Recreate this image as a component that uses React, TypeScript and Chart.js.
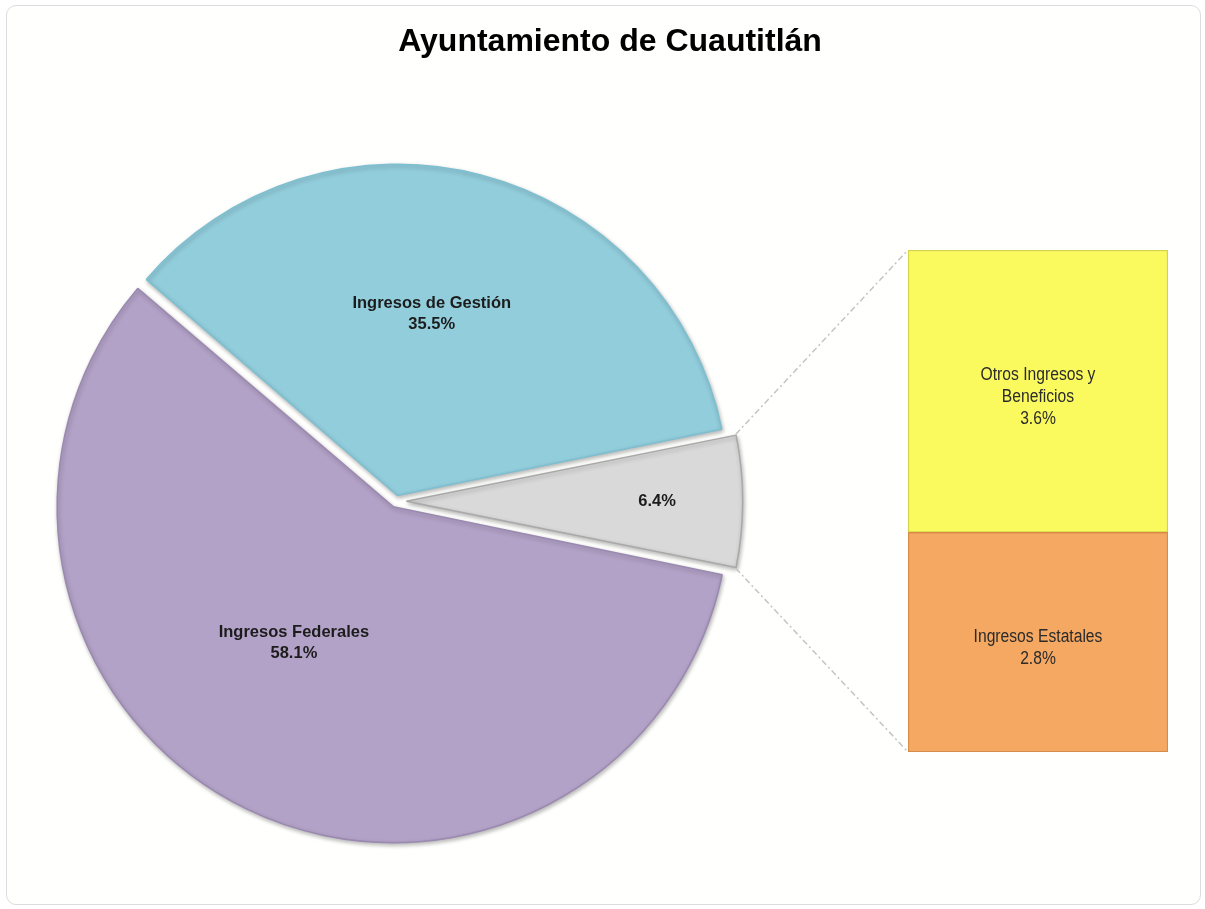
import React, { useEffect, useRef } from 'react';
import { Chart, registerables } from 'chart.js';

Chart.register(...registerables);

// ---- data ----
const TITLE = 'Ayuntamiento de Cuautitlán';
const pieCategories = ['Otros', 'Ingresos Federales', 'Ingresos de Gestión'];
const pieValues = [6.4, 58.1, 35.5];
const pieLabelLines = [[], ['Ingresos Federales'], ['Ingresos de Gestión']];
const barCategories = ['Ingresos Estatales', 'Otros Ingresos y Beneficios'];
const barValues = [2.8, 3.6];
const barLabelLines = [['Ingresos Estatales'], ['Otros Ingresos y', 'Beneficios']];

// ---- style ----
const PIE_COLORS = ['#D9D9D9', '#B3A2C7', '#92CDDC'];
const PIE_BORDERS = ['#A9A9A9', '#9A89B0', '#7DBFD0'];
const PIE_OFFSETS = [42, 24, 24];
const LABEL_ANGLE_FRAC = [0.5, 0.548, 0.47];
const LABEL_RADIUS_FRAC = [0.76, 0.51, 0.56];
const BAR_COLORS = ['#F4A862', '#FAFA5E'];
const BAR_BORDERS = ['#D88C4A', '#D4D44A'];
const BAR_LABEL_SHIFT = 6;

const W = 1205;
const H = 909;
const PIE_CX = 395.8;
const PIE_CY = 501.3;
const PIE_R = 330;
const BAR_BOX = { left: 908, top: 250, width: 260, height: 502 };
const BAR_PAD = 3;

const pct = (v: number) => v.toFixed(1) + '%';

export default function App() {
  const pieRef = useRef<HTMLCanvasElement>(null);
  const barRef = useRef<HTMLCanvasElement>(null);

  useEffect(() => {
    const barTotal = barValues.reduce((a, b) => a + b, 0);

    const barLabelPlugin = {
      id: 'barLabels',
      afterDatasetsDraw(chart: any) {
        const ctx = chart.ctx;
        chart.data.datasets.forEach((ds: any, i: number) => {
          const el = chart.getDatasetMeta(i).data[0];
          const cy = (el.y + el.base) / 2 + BAR_LABEL_SHIFT;
          const lines = [...barLabelLines[i], pct(barValues[i])];
          const lh = 22;
          ctx.save();
          ctx.translate(el.x, cy);
          ctx.scale(0.87, 1);
          ctx.font = '18px "Liberation Sans", Arial, sans-serif';
          ctx.fillStyle = '#2b2b2b';
          ctx.textAlign = 'center';
          ctx.textBaseline = 'middle';
          lines.forEach((ln, k) => ctx.fillText(ln, 0, (k - (lines.length - 1) / 2) * lh));
          ctx.restore();
        });
      },
    };

    const barChart = new Chart(barRef.current!, {
      type: 'bar',
      data: {
        labels: ['Otros'],
        datasets: barCategories.map((name, i) => ({
          label: name,
          data: [barValues[i]],
          backgroundColor: BAR_COLORS[i],
          borderColor: BAR_BORDERS[i],
          borderWidth: 1.5,
          borderSkipped: false,
          barPercentage: 1,
          categoryPercentage: 1,
        })),
      },
      options: {
        responsive: false,
        animation: false,
        events: [],
        layout: { padding: BAR_PAD },
        plugins: { legend: { display: false }, tooltip: { enabled: false } },
        scales: {
          x: { stacked: true, display: false },
          y: { stacked: true, display: false, min: 0, max: barTotal },
        },
      },
      plugins: [barLabelPlugin],
    } as any);

    const shadowPlugin = {
      id: 'pieShadow',
      beforeDatasetDraw(chart: any) {
        const ctx = chart.ctx;
        ctx.save();
        ctx.shadowColor = 'rgba(0,0,0,0.28)';
        ctx.shadowBlur = 4;
        ctx.shadowOffsetX = 1;
        ctx.shadowOffsetY = 2;
      },
      afterDatasetDraw(chart: any) {
        chart.ctx.restore();
      },
    };

    const connectorPlugin = {
      id: 'connectors',
      afterDatasetsDraw(chart: any) {
        const ctx = chart.ctx;
        const el = chart.getDatasetMeta(0).data[0];
        const { x, y, startAngle, endAngle, outerRadius } = el;
        const mid = (startAngle + endAngle) / 2;
        const t = PIE_OFFSETS[0] / 4;
        const cx = x + Math.cos(mid) * t;
        const cy = y + Math.sin(mid) * t;
        const rOff = t * (1 - Math.sin(Math.min(Math.PI, endAngle - startAngle)));
        const R = outerRadius + rOff;
        const p1 = { x: cx + R * Math.cos(startAngle), y: cy + R * Math.sin(startAngle) };
        const p2 = { x: cx + R * Math.cos(endAngle), y: cy + R * Math.sin(endAngle) };
        const offX = BAR_BOX.left - BAR_PAD;
        const offY = BAR_BOX.top - BAR_PAD;
        const topEl = barChart.getDatasetMeta(barValues.length - 1).data[0] as any;
        const botEl = barChart.getDatasetMeta(0).data[0] as any;
        const bx = offX + topEl.x - topEl.width / 2;
        ctx.save();
        ctx.strokeStyle = '#c4c4c4';
        ctx.lineWidth = 1.5;
        ctx.setLineDash([6, 3, 2, 3]);
        ctx.beginPath();
        ctx.moveTo(p1.x, p1.y);
        ctx.lineTo(bx, offY + topEl.y);
        ctx.moveTo(p2.x, p2.y);
        ctx.lineTo(bx, offY + botEl.base);
        ctx.stroke();
        ctx.restore();
      },
    };

    const pieLabelPlugin = {
      id: 'pieLabels',
      afterDatasetsDraw(chart: any) {
        const ctx = chart.ctx;
        const meta = chart.getDatasetMeta(0);
        ctx.save();
        ctx.font = 'bold 16.5px "Liberation Sans", Arial, sans-serif';
        ctx.fillStyle = '#1c1c1c';
        ctx.textAlign = 'center';
        ctx.textBaseline = 'middle';
        meta.data.forEach((el: any, i: number) => {
          const { x, y, startAngle, endAngle, outerRadius } = el;
          const mid = (startAngle + endAngle) / 2;
          const t = PIE_OFFSETS[i] / 4;
          const cx = x + Math.cos(mid) * t;
          const cy = y + Math.sin(mid) * t;
          const a = startAngle + (endAngle - startAngle) * LABEL_ANGLE_FRAC[i];
          const r = outerRadius * LABEL_RADIUS_FRAC[i];
          const lx = cx + Math.cos(a) * r;
          const ly = cy + Math.sin(a) * r;
          const lines = [...pieLabelLines[i], pct(pieValues[i])];
          const lh = 21;
          lines.forEach((ln, k) => ctx.fillText(ln, lx, ly + (k - (lines.length - 1) / 2) * lh));
        });
        ctx.restore();
      },
    };

    const pieTotal = pieValues.reduce((a, b) => a + b, 0);
    const rotation = 90 - (pieValues[0] / pieTotal) * 180;

    const pieChart = new Chart(pieRef.current!, {
      type: 'pie',
      data: {
        labels: pieCategories,
        datasets: [
          {
            data: pieValues,
            backgroundColor: PIE_COLORS,
            borderColor: PIE_BORDERS,
            borderWidth: 1.5,
            offset: PIE_OFFSETS,
            hoverOffset: 0,
          },
        ],
      },
      options: {
        responsive: false,
        animation: false,
        events: [],
        rotation,
        radius: PIE_R,
        layout: {
          padding: { left: 0, right: W - 2 * PIE_CX, top: 2 * PIE_CY - H, bottom: 0 },
        },
        plugins: { legend: { display: false }, tooltip: { enabled: false } },
      },
      plugins: [shadowPlugin, connectorPlugin, pieLabelPlugin],
    } as any);

    return () => {
      pieChart.destroy();
      barChart.destroy();
    };
  }, []);

  return (
    <div
      style={{
        position: 'fixed',
        left: 0,
        top: 0,
        width: W,
        height: H,
        overflow: 'hidden',
        background: '#ffffff',
      }}
    >
      <div
        style={{
          position: 'absolute',
          left: 6,
          top: 5,
          width: 1195,
          height: 900,
          border: '1px solid #dcdcdc',
          borderRadius: 10,
          background: '#fffffd',
          boxSizing: 'border-box',
        }}
      />
      <canvas ref={pieRef} width={W} height={H} style={{ position: 'absolute', left: 0, top: 0 }} />
      <canvas
        ref={barRef}
        width={BAR_BOX.width + 2 * BAR_PAD}
        height={BAR_BOX.height + 2 * BAR_PAD}
        style={{ position: 'absolute', left: BAR_BOX.left - BAR_PAD, top: BAR_BOX.top - BAR_PAD }}
      />
      <div
        style={{
          position: 'absolute',
          left: 10,
          width: 1200,
          top: 21,
          textAlign: 'center',
          font: 'bold 32px "Liberation Sans", Arial, sans-serif',
          lineHeight: '38px',
          color: '#000',
        }}
      >
        {TITLE}
      </div>
    </div>
  );
}
